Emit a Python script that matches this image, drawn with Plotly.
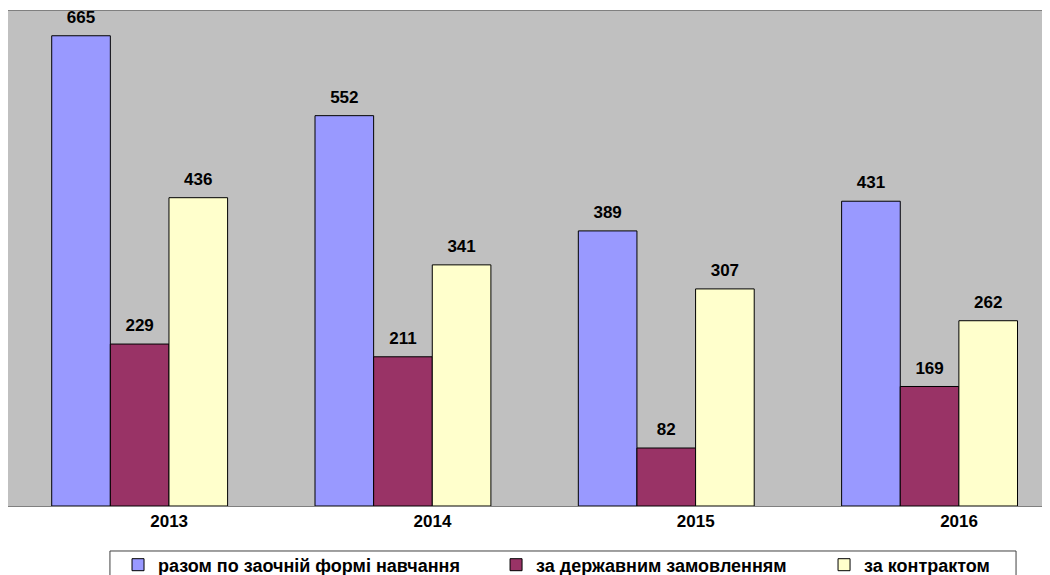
import plotly.graph_objects as go

years = ["2013", "2014", "2015", "2016"]
series_names = ["разом по заочній формі навчання", "за державним замовленням", "за контрактом"]
total = [665, 552, 389, 431]
state = [229, 211, 82, 169]
contract = [436, 341, 307, 262]
colors = ["#9999FF", "#993366", "#FFFFCC"]

series_values = [total, state, contract]
x_idx = list(range(len(years)))
font_family = "Arial, 'Liberation Sans', sans-serif"
legend_ids = ["legend", "legend2", "legend3"]
legend_x = [0.1064, 0.4720, 0.7892]

fig = go.Figure()
for k, (name, vals) in enumerate(zip(series_names, series_values)):
    fig.add_trace(go.Bar(
        x=x_idx, y=vals, name=name,
        marker=dict(color=colors[k], line=dict(color="#000000", width=1)),
        offsetgroup=str(k), legend=legend_ids[k],
    ))
for k, vals in enumerate(series_values):
    fig.add_trace(go.Scatter(
        x=x_idx, y=vals, mode="markers+text", text=[str(v) for v in vals],
        textposition="top center",
        textfont=dict(family=font_family, size=17, color="#000000", weight="bold"),
        marker=dict(size=12, opacity=0),
        offsetgroup=str(k), showlegend=False, hoverinfo="skip", cliponaxis=False,
    ))

legend_common = dict(
    orientation="h", y=-0.0818, xanchor="left", yanchor="top",
    borderwidth=0, bgcolor="rgba(0,0,0,0)",
    font=dict(family=font_family, size=18, color="#000000", weight="bold"),
)

tick_shift = 0.112
fig.update_layout(
    width=1034, height=567,
    margin=dict(l=0, r=0, t=3, b=69, autoexpand=False),
    paper_bgcolor="#FFFFFF", plot_bgcolor="#C0C0C0",
    barmode="group", bargap=0.332, bargroupgap=0,
    scattermode="group", scattergap=0.332,
    font=dict(family=font_family, color="#000000"),
    showlegend=True,
    legend=dict(x=legend_x[0], **legend_common),
    legend2=dict(x=legend_x[1], **legend_common),
    legend3=dict(x=legend_x[2], **legend_common),
    shapes=[dict(
        type="rect", xref="paper", yref="paper",
        x0=0.0986, x1=0.9749, y0=-0.0909, y1=-0.3,
        line=dict(color="#404040", width=1), fillcolor="rgba(0,0,0,0)", layer="below",
    )],
    xaxis=dict(
        range=[-0.5, 3.427], tickmode="array",
        tickvals=[i + tick_shift for i in x_idx], ticktext=years,
        showgrid=False, zeroline=False, ticks="",
        showline=True, linecolor="#808080", linewidth=1, mirror=True,
        tickfont=dict(family=font_family, size=17, color="#000000", weight="bold"),
    ),
    yaxis=dict(
        range=[0, 700], showgrid=False, zeroline=False, showticklabels=False, ticks="",
        showline=True, linecolor="#808080", linewidth=1, mirror=True,
    ),
)

fig.write_html("out.html")
